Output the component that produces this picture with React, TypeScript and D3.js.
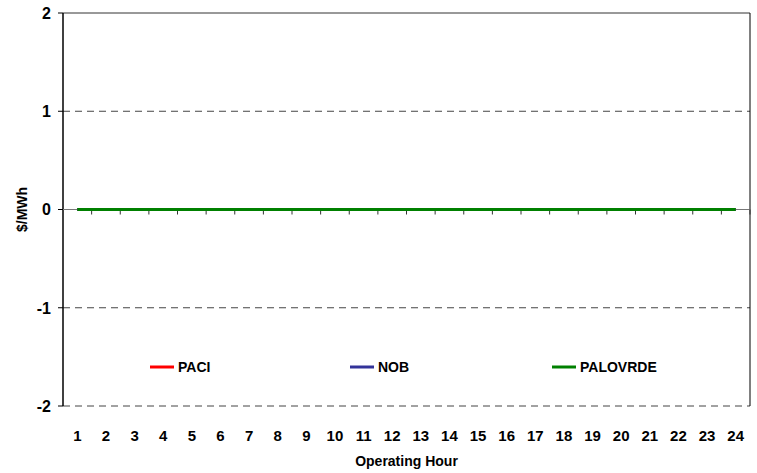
import React from 'react';
import * as d3 from 'd3';

const hours = d3.range(1, 25).map(String);
const paci = [0, 0, 0, 0, 0, 0, 0, 0, 0, 0, 0, 0, 0, 0, 0, 0, 0, 0, 0, 0, 0, 0, 0, 0];
const nob = [0, 0, 0, 0, 0, 0, 0, 0, 0, 0, 0, 0, 0, 0, 0, 0, 0, 0, 0, 0, 0, 0, 0, 0];
const palovrde = [0, 0, 0, 0, 0, 0, 0, 0, 0, 0, 0, 0, 0, 0, 0, 0, 0, 0, 0, 0, 0, 0, 0, 0];
const yTicks = [-2, -1, 0, 1, 2];

const series = [
    {name: 'PACI', values: paci, color: '#ff0000', lx: 150},
    {name: 'NOB', values: nob, color: '#333399', lx: 350},
    {name: 'PALOVRDE', values: palovrde, color: '#008000', lx: 552},
];

const W = 757, H = 473;
const left = 63, right = 750, top = 13, bottom = 406;
const font = 'Liberation Sans, Arial, sans-serif';

const App: React.FC = () => {
    const x = d3.scaleBand<string>().domain(hours).range([left, right]);
    const y = d3.scaleLinear().domain([-2, 2]).range([bottom, top]);
    const line = d3.line<number>()
        .x((_, i) => (x(hours[i]) as number) + x.bandwidth() / 2)
        .y(d => y(d));
    const y0 = y(0);

    return (
        <svg width={W} height={H} style={{position: 'absolute', left: 0, top: 0}} fontFamily={font}>
            <rect x={0} y={0} width={W} height={H} fill="#fff"/>
            {/* gridlines */}
            {yTicks.filter(t => t !== 0 && t !== 2).map(t => (
                <line key={t} x1={left} x2={right} y1={y(t)} y2={y(t)}
                      stroke="#444" strokeWidth={1} strokeDasharray="7,5"/>
            ))}
            {/* plot border */}
            <line x1={left} x2={right} y1={top} y2={top} stroke="#333" strokeWidth={1}/>
            <line x1={right} x2={right} y1={top} y2={bottom} stroke="#000" strokeWidth={1}/>
            {/* y axis */}
            <line x1={left} x2={left} y1={top} y2={bottom} stroke="#000" strokeWidth={1.5}/>
            {yTicks.map(t => (
                <g key={t}>
                    <line x1={left - 5} x2={left} y1={y(t)} y2={y(t)} stroke="#000"/>
                    <text x={51} y={y(t)} dy="0.36em" textAnchor="end" fontSize={16} fontWeight="bold">{t}</text>
                </g>
            ))}
            {/* x axis on zero */}
            <line x1={left} x2={right} y1={y0} y2={y0} stroke="#777" strokeWidth={1}/>
            {hours.map(h => (
                <line key={h} x1={(x(h) as number) + x.bandwidth()} x2={(x(h) as number) + x.bandwidth()}
                      y1={y0} y2={y0 + 5} stroke="#333"/>
            ))}
            {series.map(s => (
                <path key={s.name} d={line(s.values) as string} fill="none" stroke={s.color} strokeWidth={3}/>
            ))}
            {hours.map(h => (
                <text key={h} x={(x(h) as number) + x.bandwidth() / 2} y={441} textAnchor="middle"
                      fontSize={15} fontWeight="bold">{h}</text>
            ))}
            <text x={(left + right) / 2} y={466} textAnchor="middle" fontSize={14} fontWeight="bold">Operating Hour</text>
            <text transform={`translate(27,${y0}) rotate(-90)`} textAnchor="middle" fontSize={14}
                  fontWeight="bold">$/MWh</text>
            {/* legend */}
            {series.map(s => (
                <g key={s.name}>
                    <line x1={s.lx} x2={s.lx + 24} y1={367} y2={367} stroke={s.color} strokeWidth={3}/>
                    <text x={s.lx + 28} y={367} dy="0.36em" fontSize={14} fontWeight="bold">{s.name}</text>
                </g>
            ))}
        </svg>
    );
};

export default App;
